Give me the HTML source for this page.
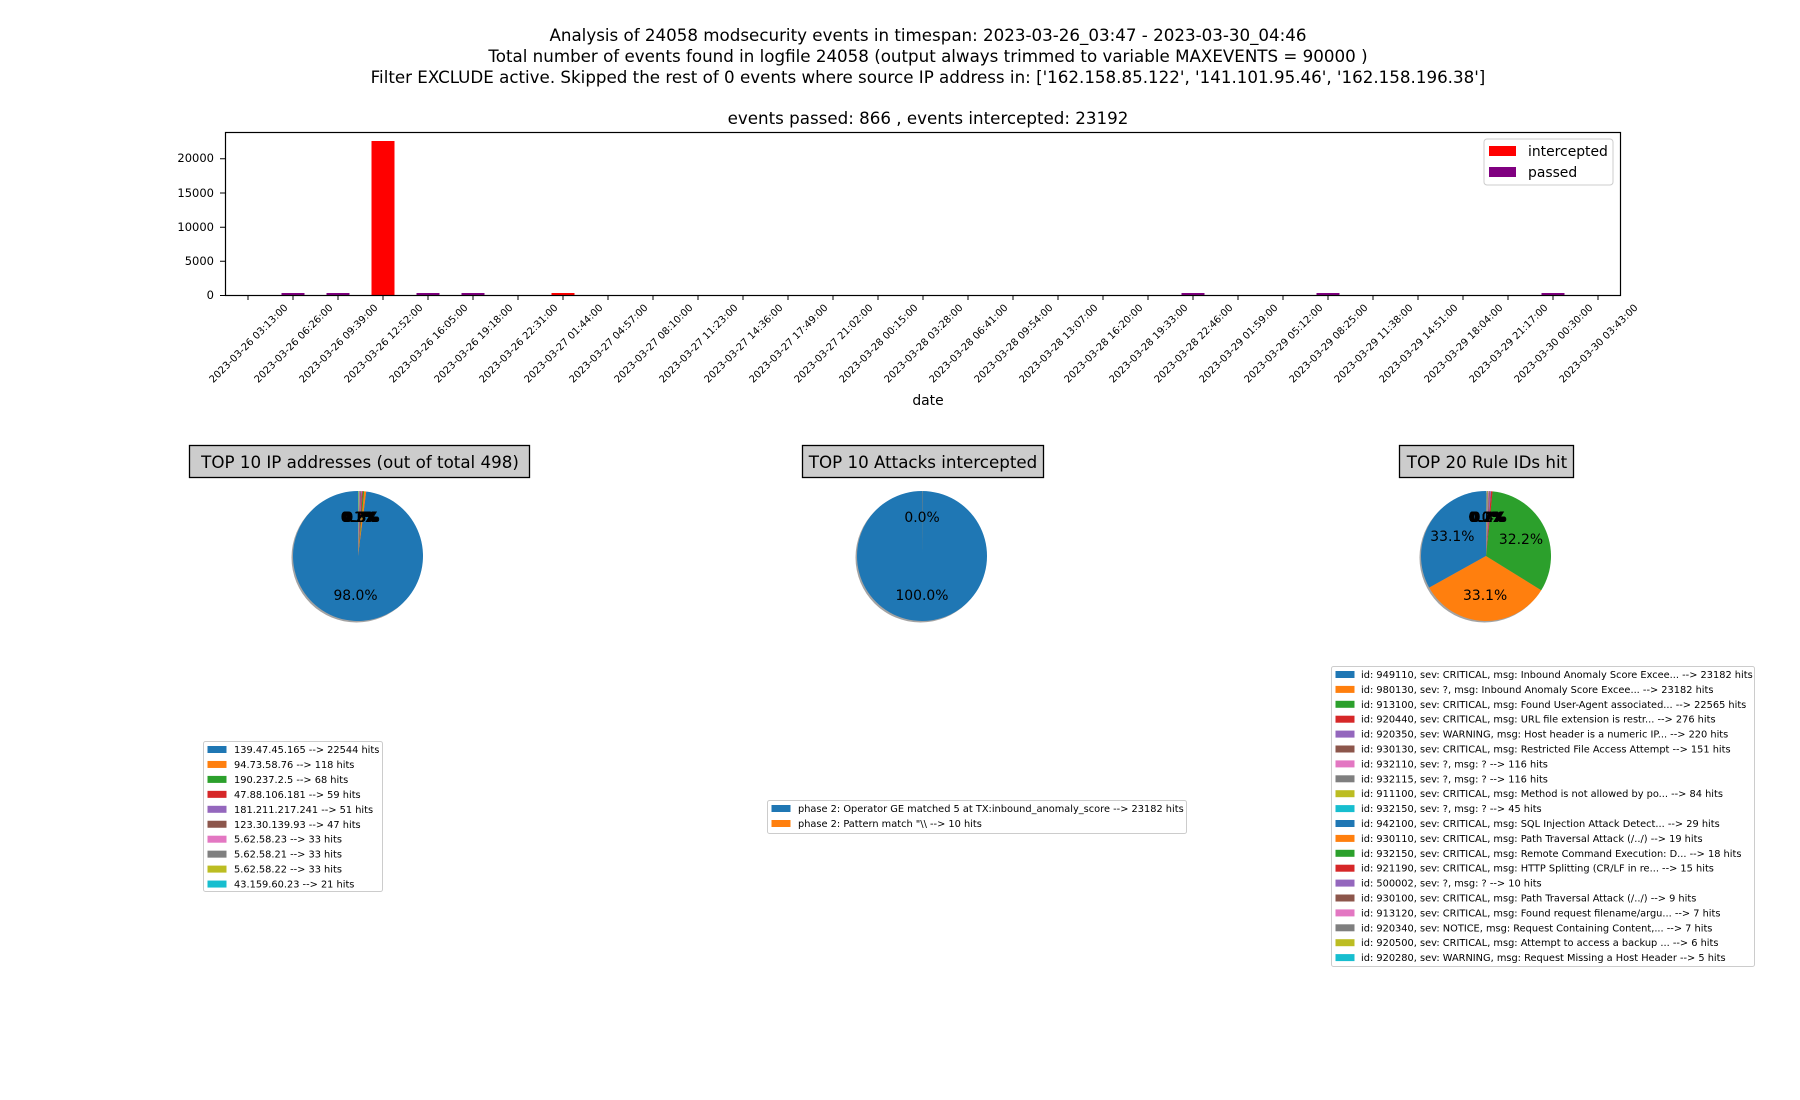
<!DOCTYPE html>
<html><head><meta charset="utf-8"><style>
body{margin:0;background:#fff;}
svg{display:block;font-family:"DejaVu Sans","Liberation Sans",sans-serif;}
</style></head><body>
<svg id="s" width="1800" height="1100" viewBox="0 0 1800 1100" xmlns="http://www.w3.org/2000/svg">
<rect width="1800" height="1100" fill="#fff"/>
<g font-size="16.7" text-anchor="middle" fill="#000">
<text x="928" y="41">Analysis of 24058 modsecurity events in timespan: 2023-03-26_03:47 - 2023-03-30_04:46</text>
<text x="928" y="62">Total number of events found in logfile 24058 (output always trimmed to variable MAXEVENTS = 90000 )</text>
<text x="928" y="83">Filter EXCLUDE active. Skipped the rest of 0 events where source IP address in: ['162.158.85.122', '141.101.95.46', '162.158.196.38']</text>
<text x="928" y="124">events passed: 866 , events intercepted: 23192</text>
<text x="928" y="405" font-size="13.9">date</text>
</g>
<g id="bars"></g>
<rect x="225.5" y="132.5" width="1395" height="163" fill="none" stroke="#000" stroke-width="1.2"/>
<g font-size="11.5" text-anchor="end">
<text x="214" y="299">0</text><text x="214" y="265">5000</text><text x="214" y="231">10000</text><text x="214" y="197">15000</text><text x="214" y="162">20000</text>
<path d="M220 295.5h5M220 261.3h5M220 227.2h5M220 193h5M220 158.8h5" stroke="#000"/>
</g>
<g id="xt" font-size="10" text-anchor="middle"></g>
<rect x="1484" y="139" width="129" height="46" rx="3" fill="#fff" stroke="#ccc"/>
<rect x="1489" y="146" width="27" height="10" fill="#ff0000"/><rect x="1489" y="167" width="27" height="10" fill="#800080"/>
<g font-size="13.9"><text x="1528" y="156">intercepted</text><text x="1528" y="177">passed</text></g>
<g font-size="16.7" text-anchor="middle">
<rect x="189.5" y="445.5" width="340" height="32" fill="#ccc" stroke="#000" stroke-width="1.3"/>
<text x="360" y="468">TOP 10 IP addresses (out of total 498)</text>
<rect x="802.5" y="445.5" width="241" height="32" fill="#ccc" stroke="#000" stroke-width="1.3"/>
<text x="923" y="468">TOP 10 Attacks intercepted</text>
<rect x="1399.5" y="445.5" width="174" height="32" fill="#ccc" stroke="#000" stroke-width="1.3"/>
<text x="1487" y="468">TOP 20 Rule IDs hit</text>
</g>
<g id="pies"></g>
<g id="legs" font-size="9.8"></g>
</svg>
<script>
var NS="http://www.w3.org/2000/svg";
function el(p,t,a,txt){var e=document.createElementNS(NS,t);for(var k in a)e.setAttribute(k,a[k]);if(txt!=null)e.textContent=txt;p.appendChild(e);return e;}
var C=["#1f77b4","#ff7f0e","#2ca02c","#d62728","#9467bd","#8c564b","#e377c2","#7f7f7f","#bcbd22","#17becf"];
var bars=document.getElementById("bars"),xt=document.getElementById("xt");
var labels=["2023-03-26 03:13:00","2023-03-26 06:26:00","2023-03-26 09:39:00","2023-03-26 12:52:00","2023-03-26 16:05:00","2023-03-26 19:18:00","2023-03-26 22:31:00","2023-03-27 01:44:00","2023-03-27 04:57:00","2023-03-27 08:10:00","2023-03-27 11:23:00","2023-03-27 14:36:00","2023-03-27 17:49:00","2023-03-27 21:02:00","2023-03-28 00:15:00","2023-03-28 03:28:00","2023-03-28 06:41:00","2023-03-28 09:54:00","2023-03-28 13:07:00","2023-03-28 16:20:00","2023-03-28 19:33:00","2023-03-28 22:46:00","2023-03-29 01:59:00","2023-03-29 05:12:00","2023-03-29 08:25:00","2023-03-29 11:38:00","2023-03-29 14:51:00","2023-03-29 18:04:00","2023-03-29 21:17:00","2023-03-30 00:30:00","2023-03-30 03:43:00"];
for(var i=0;i<31;i++){var x=248+i*45.0;
 el(xt,"path",{d:"M"+x+" 295v5",stroke:"#000"});
 el(xt,"text",{x:x,y:347,transform:"rotate(-45 "+x+" 343)"},labels[i]);}
function bar(i,h,c){var x=248+i*45-11.5;el(bars,"rect",{x:x,y:295-h,width:23,height:h,fill:c});}
bar(3,154,"#ff0000");bar(7,2,"#ff0000");[1,2,4,5,21,24,29].forEach(function(i){bar(i,2,"#800080");});
var pies=document.getElementById("pies");
function pie(cx,cy,r,vals){
 el(pies,"circle",{cx:cx-1.5,cy:cy+1.5,r:r,fill:"#666",opacity:0.6});
 var tot=vals.reduce(function(a,b){return a+b},0),a=90,pts=[];
 vals.forEach(function(v,i){var da=v/tot*360,a2=a+da;
  var x1=cx+r*Math.cos(a*Math.PI/180),y1=cy-r*Math.sin(a*Math.PI/180),x2=cx+r*Math.cos(a2*Math.PI/180),y2=cy-r*Math.sin(a2*Math.PI/180);
  var d=da>=359.99?null:"M"+cx+" "+cy+"L"+x1+" "+y1+"A"+r+" "+r+" 0 "+(da>180?1:0)+" 0 "+x2+" "+y2+"Z";
  if(d)el(pies,"path",{d:d,fill:C[i%10]});else el(pies,"circle",{cx:cx,cy:cy,r:r,fill:C[i%10]});
  var m=(a+a2)/2*Math.PI/180;pts.push([cx+0.6*r*Math.cos(m),cy-0.6*r*Math.sin(m),(v/tot*100).toFixed(1)+"%"]);a=a2;});
 pts.forEach(function(p){el(pies,"text",{x:p[0],y:p[1]+5,"font-size":13.9,"text-anchor":"middle"},p[2]);});
}
pie(358,556,65,[22544,118,68,59,51,47,33,33,33,21]);
pie(922,556,65,[23182,10]);
pie(1486,556,65,[23182,23182,22565,276,220,151,116,116,84,45,29,19,18,15,10,9,7,7,6,5]);
var legs=document.getElementById("legs");
function leg(x,y,w,h,tx,rows,sp){
 el(legs,"rect",{x:x,y:y,width:w,height:h,rx:2,fill:"#fff",stroke:"#ccc"});
 rows.forEach(function(t,i){var cy=y+8+i*sp;
  el(legs,"rect",{x:x+4,y:cy-3.5,width:19,height:7,fill:C[i%10]});
  el(legs,"text",{x:tx,y:cy+3.5},t);});
}
leg(203.5,741.5,179,150,234,["139.47.45.165 --> 22544 hits","94.73.58.76 --> 118 hits","190.237.2.5 --> 68 hits","47.88.106.181 --> 59 hits","181.211.217.241 --> 51 hits","123.30.139.93 --> 47 hits","5.62.58.23 --> 33 hits","5.62.58.21 --> 33 hits","5.62.58.22 --> 33 hits","43.159.60.23 --> 21 hits"],14.95);
leg(767.5,800.5,419,33,798,["phase 2: Operator GE matched 5 at TX:inbound_anomaly_score --> 23182 hits","phase 2: Pattern match \"\\\\ --> 10 hits"],15);
leg(1331.5,666.5,423,300,1361,["id: 949110, sev: CRITICAL, msg: Inbound Anomaly Score Excee... --> 23182 hits","id: 980130, sev: ?, msg: Inbound Anomaly Score Excee... --> 23182 hits","id: 913100, sev: CRITICAL, msg: Found User-Agent associated... --> 22565 hits","id: 920440, sev: CRITICAL, msg: URL file extension is restr... --> 276 hits","id: 920350, sev: WARNING, msg: Host header is a numeric IP... --> 220 hits","id: 930130, sev: CRITICAL, msg: Restricted File Access Attempt --> 151 hits","id: 932110, sev: ?, msg: ? --> 116 hits","id: 932115, sev: ?, msg: ? --> 116 hits","id: 911100, sev: CRITICAL, msg: Method is not allowed by po... --> 84 hits","id: 932150, sev: ?, msg: ? --> 45 hits","id: 942100, sev: CRITICAL, msg: SQL Injection Attack Detect... --> 29 hits","id: 930110, sev: CRITICAL, msg: Path Traversal Attack (/../) --> 19 hits","id: 932150, sev: CRITICAL, msg: Remote Command Execution: D... --> 18 hits","id: 921190, sev: CRITICAL, msg: HTTP Splitting (CR/LF in re... --> 15 hits","id: 500002, sev: ?, msg: ? --> 10 hits","id: 930100, sev: CRITICAL, msg: Path Traversal Attack (/../) --> 9 hits","id: 913120, sev: CRITICAL, msg: Found request filename/argu... --> 7 hits","id: 920340, sev: NOTICE, msg: Request Containing Content,... --> 7 hits","id: 920500, sev: CRITICAL, msg: Attempt to access a backup ... --> 6 hits","id: 920280, sev: WARNING, msg: Request Missing a Host Header --> 5 hits"],14.9);
</script>
</body></html>
